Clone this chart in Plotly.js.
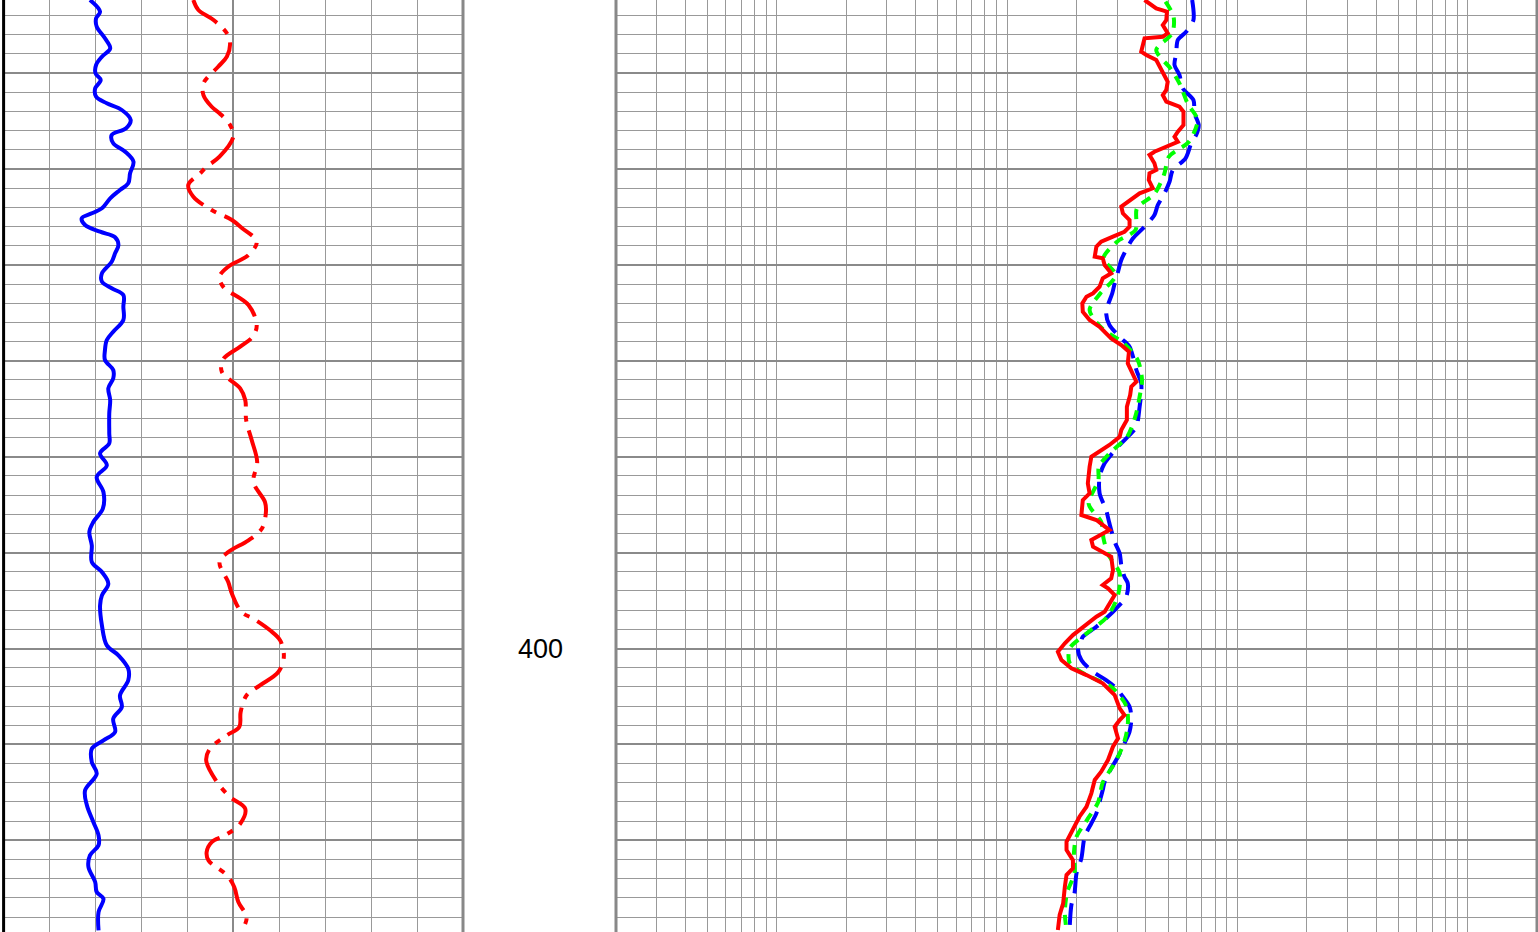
<!DOCTYPE html>
<html>
<head>
<meta charset="utf-8">
<script src="https://cdn.plot.ly/plotly-3.0.1.min.js"></script>
<style>
html,body{margin:0;padding:0;background:#fff;}
#chart{width:1538px;height:932px;}
</style>
</head>
<body>
<div id="chart"></div>
<script>
// ---- Track 1: gamma ray (blue, solid) ----
const grDepth = [332.38,333.60,334.29,335.16,336.37,337.42,338.29,339.16,340.02,340.72,341.59,342.46,343.15,343.85,344.89,345.76,346.46,347.32,348.20,349.24,350.45,351.49,352.19,353.06,354.10,354.62,355.14,355.84,356.54,357.12,357.93,358.79,359.67,360.88,361.75,362.44,363.14,364.36,365.75,366.97,367.83,368.88,369.92,370.96,371.83,372.87,374.09,375.48,377.56,378.61,379.65,380.90,382.12,383.68,385.42,386.81,387.85,389.24,390.98,392.03,393.25,394.46,395.50,397.58,399.67,400.71,402.11,403.32,404.88,406.10,407.32,408.71,409.58,410.45,411.84,413.06,414.79,416.35,418.09,419.48,420.52,421.57,422.79,424.35,425.39,426.09,427.48,429.39];
const grValues = [28.2,31.5,30.2,30.4,33.1,34.8,32.1,30.2,30.0,31.7,29.9,30.2,33.7,38.6,41.5,40.0,35.3,35.8,39.7,42.4,41.3,40.7,38.0,34.8,32.1,28.8,25.5,26.6,31.5,36.4,37.5,36.4,35.3,32.1,32.1,35.3,39.1,39.1,39.1,35.8,33.7,33.1,33.1,35.8,35.8,34.2,34.8,34.5,34.5,34.5,31.5,33.7,30.4,32.6,32.4,29.3,28.0,28.8,28.8,32.1,34.2,32.1,31.5,32.1,33.7,37.5,40.7,40.7,38.0,38.6,35.8,36.4,32.6,28.8,28.8,30.4,26.6,27.2,29.3,31.0,31.0,28.2,27.7,29.9,30.4,32.6,31.0,31.0];

// ---- Track 1: caliper (red, dash-dot) ----
const caliDepth = [332.38,333.42,334.47,335.85,336.90,338.29,339.34,341.07,342.29,343.51,344.19,345.41,346.63,348.72,349.76,350.45,351.67,352.89,354.28,355.32,356.12,357.58,358.97,360.19,361.23,362.28,364.18,366.27,367.49,368.53,369.85,371.14,372.87,374.09,376.18,378.26,380.55,382.64,384.73,385.77,387.51,388.72,389.94,390.98,393.07,394.29,396.20,396.89,398.10,399.15,400.89,402.45,403.84,404.88,406.62,408.19,409.05,410.45,411.66,413.75,415.49,416.71,418.27,419.48,420.18,421.22,422.09,423.65,424.87,426.44,428.00,429.22];
const caliValues = [10.13,10.24,10.57,10.86,10.93,10.86,10.67,10.35,10.35,10.53,10.70,10.93,11.00,10.70,10.42,10.28,10.02,10.13,10.53,10.97,11.18,11.51,11.33,10.89,10.70,10.78,11.33,11.51,11.42,11.15,10.78,10.75,11.15,11.26,11.28,11.40,11.52,11.44,11.69,11.71,11.62,11.33,10.89,10.70,10.89,10.97,11.18,11.44,11.80,12.02,12.10,11.98,11.58,11.29,11.16,11.13,10.86,10.49,10.41,10.62,10.93,11.26,11.15,10.82,10.53,10.42,10.46,10.86,11.02,11.11,11.29,11.21];

// ---- Track 3: deep resistivity (blue, dashed) ----
const deepDepth = [332.38,334.47,335.69,336.55,337.94,339.16,340.20,341.59,342.81,344.19,345.41,346.46,347.32,348.89,350.11,351.33,352.54,353.76,354.80,356.02,357.23,358.10,359.49,360.71,361.92,362.96,364.18,365.05,366.27,367.66,368.53,369.58,370.96,372.35,373.39,374.79,376.87,377.74,378.78,380.69,382.09,383.82,385.56,386.95,388.87,390.08,391.30,392.51,393.20,394.60,395.81,396.85,397.73,398.77,399.12,399.98,401.20,402.42,403.29,404.15,405.03,406.07,407.28,408.68,409.89,411.29,412.50,413.89,414.76,415.98,417.19,418.23,419.63,421.88,423.45,425.53,426.75,428.84];
const deepValues = [63.6,64.4,59.9,55.1,54.2,53.3,56.0,57.9,64.4,65.1,67.9,66.2,63.0,59.5,52.4,50.7,48.2,45.1,43.6,39.5,35.2,33.4,31.3,30.3,29.3,28.6,27.4,26.9,27.8,31.3,34.0,35.2,36.4,38.2,38.2,37.6,36.4,34.0,30.8,26.5,25.2,25.2,26.9,27.8,29.3,30.8,31.3,32.3,33.4,32.9,29.8,26.9,24.4,21.3,21.0,20.3,21.0,23.6,26.9,29.8,31.8,34.0,34.6,34.0,32.3,30.3,28.3,26.5,26.0,25.2,24.4,23.2,21.7,21.0,20.0,19.6,19.0,18.7];

// ---- Track 3: medium resistivity (green, dashed) ----
const medDepth = [332.56,334.12,335.85,337.59,339.50,341.07,343.22,344.89,347.16,348.72,350.52,352.61,354.10,356.36,357.58,359.31,361.06,362.96,364.71,366.61,368.15,369.92,372.01,373.88,375.83,377.92,379.65,381.05,382.43,384.94,386.78,388.51,390.15,392.16,394.42,396.69,398.33,399.98,401.54,402.77,403.99,405.98,407.98,409.89,411.89,413.98,416.06,417.89,419.63,421.27,423.45,425.45,427.58,429.36];
const medValues = [48.7,52.8,52.1,44.4,51.1,56.0,60.9,67.1,61.5,50.4,48.1,43.6,36.6,36.1,30.0,26.2,29.6,25.4,22.8,25.8,32.0,36.9,38.5,37.5,36.0,33.2,27.8,25.0,24.9,22.6,25.6,26.2,27.4,30.8,30.3,27.2,22.4,18.7,18.7,22.1,28.3,32.9,33.4,32.1,29.4,26.0,24.8,22.2,20.0,19.5,19.6,18.2,17.8,18.1];

// ---- Track 3: shallow resistivity (red, solid) ----
const shalDepth = [332.38,333.25,333.60,334.47,334.99,335.85,336.21,336.37,337.77,338.11,338.64,339.34,340.20,340.90,341.76,342.29,342.98,343.51,344.03,345.41,346.11,346.63,347.16,347.68,348.20,348.54,349.41,350.11,350.45,351.15,352.01,352.54,353.24,353.93,354.62,355.32,356.02,356.54,357.06,357.58,358.10,359.15,359.31,360.01,360.88,361.40,362.28,362.96,363.32,364.01,364.88,365.75,366.45,367.66,368.36,369.05,370.26,371.31,372.18,372.70,373.57,374.79,376.18,377.22,377.92,378.78,379.30,380.00,381.05,382.78,383.82,384.52,386.08,386.60,387.65,388.69,389.39,389.91,390.43,391.82,392.68,393.38,393.73,394.42,395.29,396.17,396.69,397.55,398.60,399.46,400.34,401.20,402.07,402.77,403.63,404.85,406.24,406.94,407.46,408.16,409.37,410.24,411.63,412.85,413.71,415.10,416.50,417.54,418.93,420.15,421.01,422.06,422.92,423.62,424.84,426.57,427.79,429.36];
const shalValues = [39.5,44.4,49.4,49.1,47.4,49.8,47.4,39.5,38.2,40.2,44.4,45.9,48.2,49.8,49.1,47.4,49.1,56.0,58.3,58.3,55.1,53.3,55.1,49.1,43.6,41.5,43.6,44.4,41.5,41.2,42.9,37.6,34.0,31.3,31.8,34.0,34.0,32.3,28.8,25.6,24.4,24.0,26.0,26.5,28.3,26.0,25.2,23.6,22.1,21.2,21.3,22.8,25.2,28.3,31.3,33.8,33.4,34.9,36.4,34.6,34.2,33.1,33.1,31.3,30.8,27.8,25.6,23.2,22.8,22.4,22.8,21.3,21.0,24.4,27.8,23.2,23.6,25.6,28.3,28.8,28.3,26.0,27.4,29.3,27.8,26.5,24.4,22.1,19.3,17.8,16.6,17.2,19.0,22.1,26.0,29.3,30.8,32.3,30.8,29.3,30.3,28.8,27.4,25.6,24.0,23.2,22.1,20.6,19.3,18.1,18.1,19.3,19.3,18.1,17.8,17.5,16.9,16.6];

// ---- Axis scales and labels ----
const depthRange = [429.56, 332.38];   // depth increases downward
const grRange = [0, 150];
const caliRange = [6, 16];
const resRange = [0.2, 2000];
const depthLabelValues = [400];
const depthLabelText = ['400'];

const GRID = '#8a8a8a';
const GRID_MINOR = '#999999';

const traces = [
  {x: grValues, y: grDepth, xaxis: 'x', yaxis: 'y', type: 'scatter', mode: 'lines',
   line: {color: '#0000ff', width: 4, shape: 'spline', smoothing: 1}, hoverinfo: 'skip'},
  {x: caliValues, y: caliDepth, xaxis: 'x3', yaxis: 'y', type: 'scatter', mode: 'lines',
   line: {color: '#ff0000', width: 4, shape: 'spline', smoothing: 1, dash: '34px,9px,6px,9px'}, hoverinfo: 'skip'},
  {x: deepValues, y: deepDepth, xaxis: 'x2', yaxis: 'y2', type: 'scatter', mode: 'lines',
   line: {color: '#0000ff', width: 4, shape: 'spline', smoothing: 0.8, dash: '22px,10px'}, hoverinfo: 'skip'},
  {x: medValues, y: medDepth, xaxis: 'x2', yaxis: 'y2', type: 'scatter', mode: 'lines',
   line: {color: '#00ff00', width: 4, shape: 'spline', smoothing: 0.8, dash: '10px,8px'}, hoverinfo: 'skip'},
  {x: shalValues, y: shalDepth, xaxis: 'x2', yaxis: 'y2', type: 'scatter', mode: 'lines',
   line: {color: '#ff0000', width: 4}, hoverinfo: 'skip'}
];

const yCommon = {
  range: depthRange, autorange: false, dtick: 10, tick0: 0,
  showgrid: true, gridcolor: GRID, gridwidth: 2,
  minor: {dtick: 2, tick0: 0, showgrid: true, gridcolor: GRID_MINOR, gridwidth: 1},
  showticklabels: false, ticks: '', zeroline: false, showline: false
};
const yHeavy = {
  range: depthRange, autorange: false, dtick: 50, tick0: 0,
  showgrid: true, gridcolor: GRID, gridwidth: 3,
  showticklabels: false, ticks: '', zeroline: false, showline: false
};

const trackDomain1 = [3.6/1538, 463/1538];
const trackDomain3 = [616/1538, 1537/1538];

const layout = {
  width: 1538, height: 932,
  margin: {l: 0, r: 0, t: 0, b: 0, pad: 0},
  paper_bgcolor: '#ffffff', plot_bgcolor: 'rgba(0,0,0,0)',
  showlegend: false,
  xaxis: {domain: trackDomain1, anchor: 'y', range: grRange, autorange: false,
    dtick: 75, tick0: 0, showgrid: true, gridcolor: GRID, gridwidth: 2,
    minor: {dtick: 15, tick0: 0, showgrid: true, gridcolor: GRID_MINOR, gridwidth: 1},
    showticklabels: false, ticks: '', zeroline: false, showline: false},
  xaxis3: {overlaying: 'x', anchor: 'y', range: caliRange, autorange: false,
    showgrid: false, showticklabels: false, ticks: '', zeroline: false, showline: false},
  xaxis2: {domain: trackDomain3, anchor: 'y2', type: 'log',
    range: [Math.log10(resRange[0]), Math.log10(resRange[1])], autorange: false,
    dtick: 'D1', showgrid: true, gridcolor: GRID_MINOR, gridwidth: 1,
    showticklabels: false, ticks: '', zeroline: false, showline: false},
  yaxis: Object.assign({anchor: 'x', domain: [0, 1]}, yCommon),
  yaxis2: Object.assign({anchor: 'x2', domain: [0, 1]}, yCommon),
  yaxis3: Object.assign({anchor: 'x', overlaying: 'y'}, yHeavy),
  yaxis4: Object.assign({anchor: 'x2', overlaying: 'y2'}, yHeavy),
  shapes: [
    {type: 'line', xref: 'x domain', yref: 'paper', x0: 1, x1: 1, y0: 0, y1: 1,
     line: {color: '#888888', width: 3}, layer: 'above'},
    {type: 'line', xref: 'x domain', yref: 'paper', x0: 0, x1: 0, y0: 0, y1: 1,
     line: {color: '#000000', width: 3}, layer: 'above'},
    {type: 'line', xref: 'x2 domain', yref: 'paper', x0: 0, x1: 0, y0: 0, y1: 1,
     line: {color: '#888888', width: 3}, layer: 'above'},
    {type: 'line', xref: 'x2 domain', yref: 'paper', x0: 1, x1: 1, y0: 0, y1: 1,
     line: {color: '#888888', width: 3}, layer: 'above'}
  ],
  annotations: depthLabelValues.map((d, i) => ({
    xref: 'paper', yref: 'y', x: 540/1538, y: d, text: depthLabelText[i],
    showarrow: false, xanchor: 'center', yanchor: 'middle',
    font: {family: 'Liberation Sans, Arial, sans-serif', size: 27, color: '#000000'}
  }))
};

Plotly.newPlot('chart', traces, layout, {displayModeBar: false});
</script>
</body>
</html>
